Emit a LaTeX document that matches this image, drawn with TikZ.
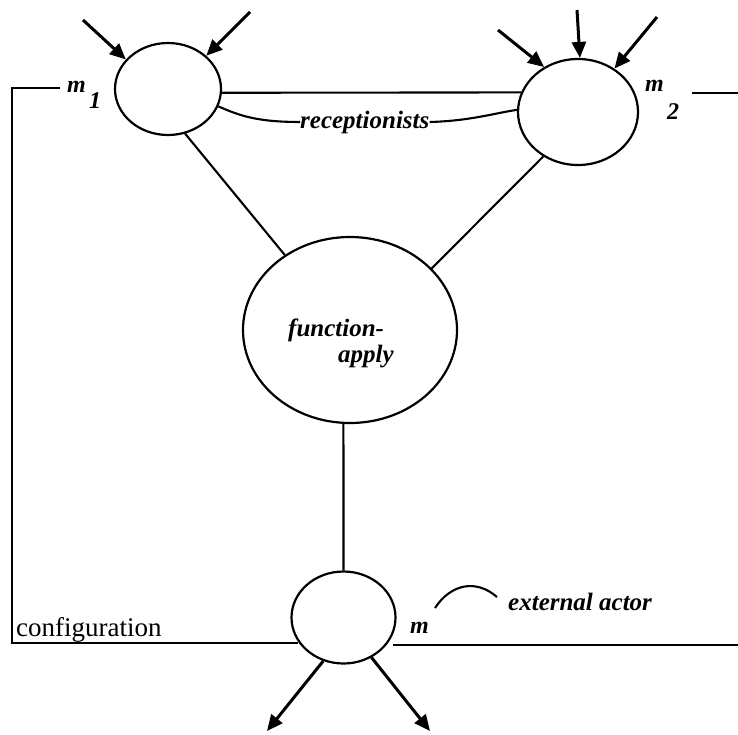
\documentclass[tikz,border=0pt]{standalone}
\usepackage{fontspec}
\setmainfont{Liberation Serif}
\usetikzlibrary{shapes.geometric,arrows.meta}
\begin{document}
\begin{tikzpicture}[x=1pt,y=-1pt,
  actor/.style={draw, ellipse, line width=2.2pt, inner sep=0pt},
  conn/.style={line width=2.1pt},
  inarrow/.style={line width=3pt, -{Triangle[length=16pt,width=14pt]}},
  lbl/.style={font=\fontsize{25}{30}\selectfont\bfseries\itshape, inner sep=0pt},
  mlbl/.style={font=\fontsize{24}{28}\selectfont\bfseries\itshape, inner sep=0pt},
  cfg/.style={font=\fontsize{27}{32}\selectfont, inner sep=0pt}]
\useasboundingbox (0,0) rectangle (738,734);
% actors
\node[actor, minimum width=106pt, minimum height=92pt] (m1) at (168,89) {};
\node[actor, minimum width=120pt, minimum height=106pt] (m2) at (578,112) {};
\node[actor, minimum width=214pt, minimum height=186pt] (fa) at (350,330) {};
\node[actor, minimum width=104pt, minimum height=92pt] (m) at (343.5,617.5) {};
% texts
\node[lbl, anchor=base west] (fa1) at (288,336) {function-};
\node[lbl, anchor=base west] (fa2) at (338,362) {apply};
\node[lbl, anchor=base west] (recp) at (300,128) {receptionists};
\node[lbl, anchor=base west] (ext) at (508,610) {external actor};
\node[cfg, anchor=base west] (cfgl) at (16,636) {configuration};
\node[mlbl, anchor=base west] (m1l) at (67,92) {m};
\node[mlbl, anchor=base west] (m1s) at (89,108) {1};
\node[mlbl, anchor=base west] (m2l) at (645,91) {m};
\node[mlbl, anchor=base west] (m2s) at (667,119) {2};
\node[mlbl, anchor=base west] (ml) at (410,633) {m};
% coordinates
\coordinate (stubL) at (60,88);
\coordinate (fTL) at (12,88);
\coordinate (fBL) at (12,643);
\coordinate (fBLe) at (298,643);
\coordinate (fBRs) at (393,645);
\coordinate (fBR) at (738,645);
\coordinate (stubRs) at (692,93);
\coordinate (stubR) at (738,93);
\coordinate (a1) at (83,20);
\coordinate (a2) at (250,12);
\coordinate (b1) at (498,30);
\coordinate (b2) at (577,10);
\coordinate (b3) at (657,17);
\coordinate (c1) at (267,731);
\coordinate (c2) at (430,731);
\coordinate (ea1) at (435,608);
\coordinate (ea2) at (497,597);
% configuration frame
\draw[conn] (stubL) -- (fTL) -- (fBL) -- (fBLe);
\draw[conn] (fBRs) -- (fBR);
\draw[conn] (stubRs) -- (stubR);
% links
\draw[conn] (m1.-4) -- (m2.161);
\draw[conn] (m1.-69) -- (fa.131);
\draw[conn] (m2.-128) -- (fa.37);
\draw[conn] (fa.-94) -- (m.90);
\draw[conn] (m1.-19) .. controls (240,116) and (258,122) .. (recp.west);
\draw[conn] (recp.east) .. controls (470,121) and (495,113) .. (m2.178);
\draw[conn] (ea1) .. controls (450,585) and (475,578) .. (ea2);
% messages
\draw[inarrow] (a1) -- (m1.145);
\draw[inarrow] (a2) -- (m1.41);
\draw[inarrow] (b1) -- (m2.127);
\draw[inarrow] (b2) -- (m2.88);
\draw[inarrow] (b3) -- (m2.50);
\draw[inarrow] (m.-115) -- (c1);
\draw[inarrow] (m.-55) -- (c2);
\end{tikzpicture}
\end{document}
